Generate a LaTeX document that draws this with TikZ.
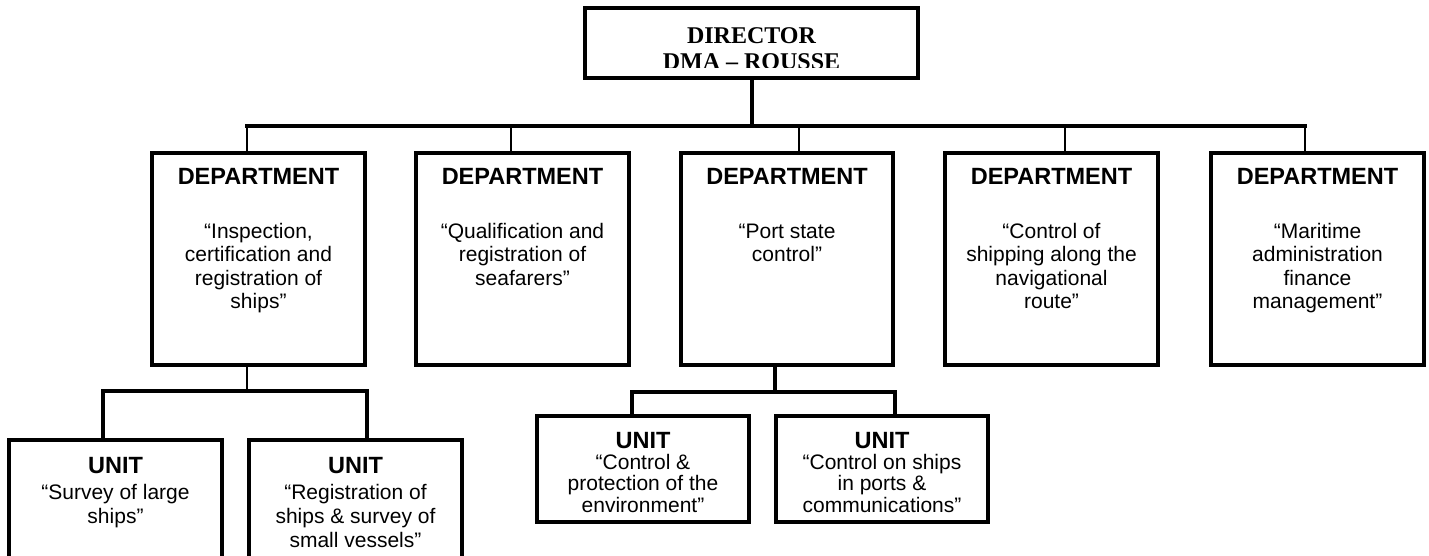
\documentclass[tikz,border=0pt]{standalone}
\usepackage{fontspec}
\setmainfont{Liberation Sans}
\newfontfamily\tnr[Ligatures=TeX]{Liberation Serif}
\newcommand\ml[1]{\begin{tabular}[t]{@{}c@{}}#1\end{tabular}}
\begin{document}
\begin{tikzpicture}[x=1pt,y=-1pt,
  box/.style={draw,line width=3.8pt,inner sep=0pt,outer sep=0pt,fill=none},
  bus/.style={line width=3.4pt,line join=miter,line cap=rect},
  drop/.style={line width=2.2pt},
  ttl/.style={inner sep=0pt,anchor=base,font=\fontsize{23.5}{26}\selectfont\bfseries},
  body/.style={inner sep=0pt,anchor=base,font=\fontsize{21}{23.6}\selectfont},
  ubody/.style={inner sep=0pt,anchor=base,font=\fontsize{21}{24.2}\selectfont},
  ubodyb/.style={inner sep=0pt,anchor=base,font=\fontsize{21}{21.8}\selectfont},
  dtxt/.style={inner sep=0pt,anchor=base,font=\tnr\bfseries\fontsize{24}{26.5}\selectfont}]
\useasboundingbox (0,0) rectangle (1429,556);
\setlength\tabcolsep{0pt}
% boxes
\node[box,minimum width=333.5pt,minimum height=70.5pt] (dir) at (751.5,43) {};
\node[box,minimum width=213pt,minimum height=212pt] (d1) at (258.5,259) {};
\node[box,minimum width=213pt,minimum height=212pt] (d2) at (522.5,259) {};
\node[box,minimum width=212pt,minimum height=212pt] (d3) at (787,259) {};
\node[box,minimum width=213pt,minimum height=212pt] (d4) at (1051.5,259) {};
\node[box,minimum width=213pt,minimum height=212pt] (d5) at (1317.5,259) {};
\node[box,minimum width=213pt,minimum height=196pt] (u1) at (115.5,538) {};
\node[box,minimum width=213pt,minimum height=196pt] (u2) at (355.5,538) {};
\node[box,minimum width=212pt,minimum height=106pt] (u3) at (643,469) {};
\node[box,minimum width=212pt,minimum height=106pt] (u4) at (882,469) {};
% director text (clipped as in the original)
\begin{scope}
\clip (583,0) rectangle (920,67.5);
\node[dtxt] (dirt) at (751.5,43.3) {\ml{DIRECTOR\\DMA – ROUSSE}};
\end{scope}
% department texts
\node[ttl] (d1h) at (258.5,185) {DEPARTMENT};
\node[ttl] (d2h) at (522.5,185) {DEPARTMENT};
\node[ttl] (d3h) at (787,185) {DEPARTMENT};
\node[ttl] (d4h) at (1051.5,185) {DEPARTMENT};
\node[ttl] (d5h) at (1317.5,185) {DEPARTMENT};
\node[body] (d1b) at (258.5,238) {\ml{“Inspection,\\certification and\\registration of\\ships”}};
\node[body] (d2b) at (522.5,238) {\ml{“Qualification and\\registration of\\seafarers”}};
\node[body] (d3b) at (787,238) {\ml{“Port state\\control”}};
\node[body] (d4b) at (1051.5,238) {\ml{“Control of\\shipping along the\\navigational\\route”}};
\node[body] (d5b) at (1317.5,238) {\ml{“Maritime\\administration\\finance\\management”}};
% unit texts
\node[ttl] (u1h) at (115.5,473) {UNIT};
\node[ttl] (u2h) at (355.5,473) {UNIT};
\node[ubody] (u1b) at (115.5,499) {\ml{“Survey of large\\ships”}};
\node[ubody] (u2b) at (355.5,499) {\ml{“Registration of\\ships \& survey of\\small vessels”}};
\node[ttl] (u3h) at (643,448) {UNIT};
\node[ttl] (u4h) at (882,448) {UNIT};
\node[ubodyb] (u3b) at (643,469) {\ml{“Control \&\\protection of the\\environment”}};
\node[ubodyb] (u4b) at (882,469) {\ml{“Control on ships\\in ports \&\\communications”}};
% connectors, top level
\coordinate (c1) at (247,126);
\coordinate (c2) at (511,126);
\coordinate (cd) at (752,126);
\coordinate (c3) at (799,126);
\coordinate (c4) at (1065,126);
\coordinate (c5) at (1305,126);
\draw[bus,line cap=butt] (dir.south -| cd) -- (cd);
\draw[bus] (c1) -- (c5);
\draw[drop] (c1) -- (d1.north -| c1);
\draw[drop] (c2) -- (d2.north -| c2);
\draw[drop] (c3) -- (d3.north -| c3);
\draw[drop] (c4) -- (d4.north -| c4);
\draw[drop] (c5) -- (d5.north -| c5);
% units of department 1
\coordinate (k1) at (247,391);
\coordinate (k1l) at (103,391);
\coordinate (k1r) at (367,391);
\draw[drop] (d1.south -| k1) -- (k1);
\draw[bus,line cap=butt] (u1.north -| k1l) -- (k1l) -- (k1r) -- (u2.north -| k1r);
% units of department 3
\coordinate (k3) at (775,392);
\coordinate (k3l) at (632,392);
\coordinate (k3r) at (895,392);
\draw[bus,line cap=butt] (d3.south -| k3) -- (k3);
\draw[bus,line cap=butt] (u3.north -| k3l) -- (k3l) -- (k3r) -- (u4.north -| k3r);
\end{tikzpicture}
\end{document}
